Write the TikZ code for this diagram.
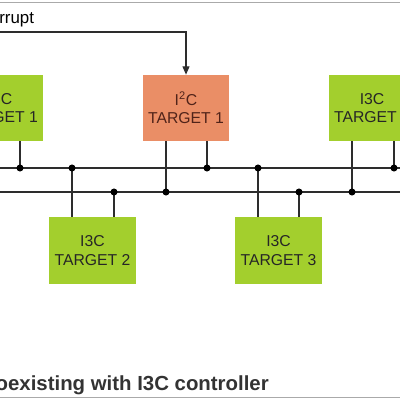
\documentclass[tikz,border=0pt]{standalone}
\usepackage{fontspec}
\setmainfont{Liberation Sans}
\usetikzlibrary{arrows.meta,positioning}
\definecolor{i3cgreen}{RGB}{163,207,45}
\definecolor{i2corange}{RGB}{234,142,102}
\definecolor{busgray}{RGB}{45,45,45}
\definecolor{framegray}{RGB}{170,170,170}

\begin{document}
\begin{tikzpicture}[x=0.025cm,y=-0.025cm,
    target/.style={fill=i3cgreen, text=black!85, minimum width=2.15cm, minimum height=1.65cm,
        inner sep=0pt, align=center, font=\fontsize{11.2}{13}\selectfont},
    legacy/.style={target, fill=i2corange, text={rgb,255:red,80;green,35;blue,25}},
    bus/.style={draw=busgray, line width=1.1pt},
    tap/.style={draw=busgray, line width=0.8pt},
    joint/.style={circle, fill=black, inner sep=0pt, minimum size=5pt}]
    \useasboundingbox (0,0) rectangle (400,400);
    \clip (0,0) rectangle (400,400);
    \draw[framegray] (-5,2) -- (405,2);
    \draw[framegray] (-5,397) -- (405,397);
    % targets
    \node[target] (t1) at (0,108) {I3C\\TARGET 1};
    \node[legacy] (i2c) at (186,108) {I\textsuperscript{2}C\\TARGET 1};
    \node[target] (t4) at (372,108) {I3C\\TARGET\phantom{ 1}};
    \node[target] (t2) at (92.5,250.5) {I3C\\TARGET 2};
    \node[target] (t3) at (278.5,250.5) {I3C\\TARGET 3};
    % bus
    \coordinate (sdaL) at (-5,168);
    \coordinate (sdaR) at (405,168);
    \coordinate (sclL) at (-5,192);
    \coordinate (sclR) at (405,192);
    \draw[bus] (sdaL) -- (sdaR);
    \draw[bus] (sclL) -- (sclR);
    \foreach \x/\n/\y in {20/t1/168, 166/i2c/192, 207/i2c/168, 352/t4/192, 394/t4/168}
        \draw[tap] (\n.south -| \x,0) -- (\x,\y) node[joint] {};
    \foreach \x/\n/\y in {72/t2/168, 114/t2/192, 258/t3/168, 299/t3/192}
        \draw[tap] (\x,\y) node[joint] {} -- (\n.north -| \x,0);
    % interrupt
    \coordinate (irq) at (-5,32);
    \draw[tap, -{Triangle[length=6pt,width=5pt]}] (irq) -| (i2c.north);
    \node[anchor=base west, inner sep=0pt, font=\fontsize{12}{14}\selectfont] (irqlabel) at (-1,24) {rrupt};
    \node[anchor=base east, inner sep=0pt, text=black!80, font=\bfseries\fontsize{14.5}{17}\selectfont] (title) at (269,390)
        {oexisting with I3C controller};
\end{tikzpicture}
\end{document}
